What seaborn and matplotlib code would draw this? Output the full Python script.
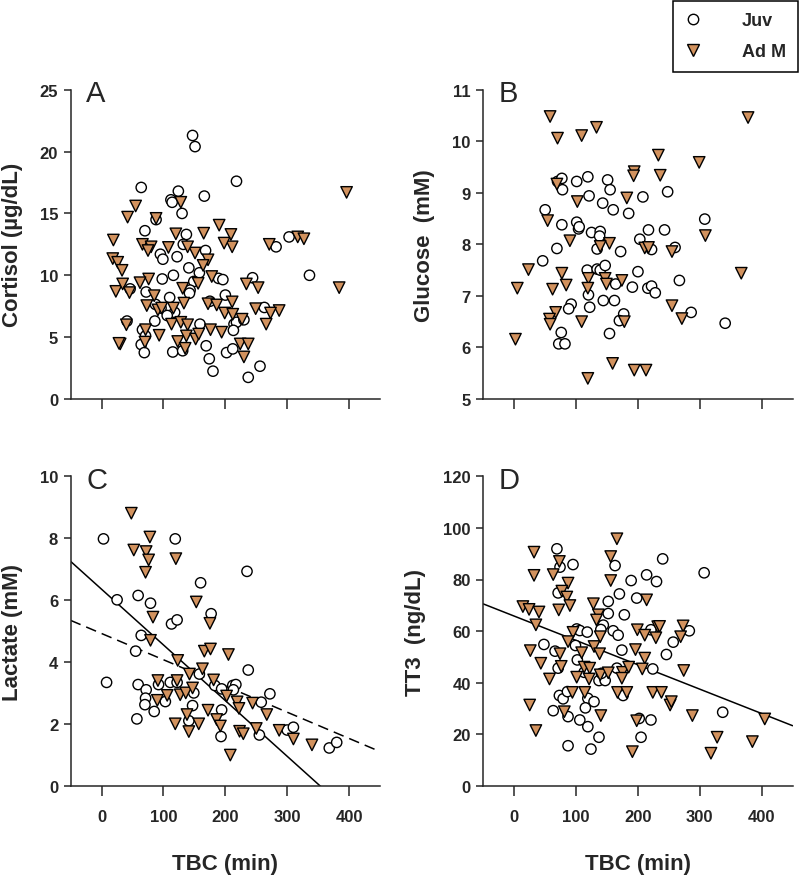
import numpy as np
import pandas as pd
import seaborn as sns
import matplotlib.pyplot as plt

sns.set_style("ticks")
plt.rcParams["font.family"] = ["Liberation Sans", "DejaVu Sans"]

TAN = "#D2925E"

# ---- panel A : cortisol ----
a_juv_tbc = [147, 151, 218, 64, 124, 166, 112, 114, 130, 88, 70, 137, 132, 303, 282, 168, 95, 122, 99, 141,
             158, 116, 98, 336, 244, 189, 196, 149, 46, 72, 143, 142, 200, 110, 175, 87, 96, 118, 106, 263,
             86, 41, 159, 214, 218, 230, 213, 66, 71, 64, 69, 115, 131, 169, 174, 180, 202, 212, 256, 237]
a_juv_val = [21.3, 20.4, 17.6, 17.1, 16.8, 16.4, 16.1, 15.9, 15.0, 14.5, 13.6, 13.3, 12.5, 13.1, 12.3, 12.0, 11.7, 11.5, 11.3, 10.6,
             10.2, 10.0, 9.7, 10.0, 9.8, 9.75, 9.65, 9.5, 8.9, 8.65, 8.8, 8.55, 8.4, 8.2, 7.9, 7.65, 7.35, 7.0, 6.75, 7.4,
             6.3, 6.3, 6.05, 6.05, 6.2, 6.4, 5.55, 5.6, 5.1, 4.4, 3.75, 3.8, 3.9, 4.3, 3.25, 2.25, 3.75, 4.05, 2.65, 1.75]
a_adm_tbc = [396, 384, 317, 327, 271, 287, 273, 266, 253, 234, 249, 190, 209, 211, 198, 165, 172, 164, 178, 156,
             151, 139, 128, 120, 108, 131, 133, 116, 113, 128, 139, 123, 135, 137, 152, 157, 176, 172, 186, 194,
             199, 212, 211, 227, 224, 237, 230, 93, 91, 97, 85, 71, 70, 73, 76, 62, 66, 80, 75, 88,
             55, 42, 19, 18, 26, 33, 23, 34, 45, 40, 30, 28]
a_adm_val = [16.7, 9.0, 13.1, 12.95, 12.5, 7.15, 6.95, 6.05, 9.0, 9.3, 7.3, 14.05, 13.3, 12.3, 12.6, 13.4, 11.25, 10.8, 9.9, 9.35,
             11.8, 12.3, 15.9, 13.35, 12.25, 8.95, 7.75, 7.35, 6.05, 6.2, 6.0, 4.65, 4.1, 5.1, 4.85, 5.25, 5.6, 7.7, 7.6, 5.4,
             6.95, 6.85, 7.85, 6.45, 4.45, 4.45, 3.4, 5.15, 7.2, 7.35, 8.35, 5.6, 4.6, 7.55, 9.7, 9.4, 12.5, 12.3, 12.0, 14.6,
             15.6, 14.7, 12.85, 11.35, 11.05, 10.4, 8.7, 9.3, 8.6, 6.0, 4.45, 4.5]

# ---- panel B : glucose ----
b_juv_tbc = [50, 70, 77, 78, 101, 119, 121, 151, 155, 143, 160, 185, 208, 248, 101, 104, 105, 77, 125, 139,
             138, 69, 46, 134, 172, 203, 217, 222, 243, 260, 308, 118, 134, 139, 147, 200, 164, 191, 216, 222,
             228, 267, 120, 122, 144, 162, 177, 170, 286, 341, 92, 88, 76, 72, 82, 154]
b_juv_val = [8.67, 9.22, 9.28, 9.06, 9.22, 9.31, 8.94, 9.25, 9.06, 8.8, 8.67, 8.6, 8.92, 9.02, 8.43, 8.3, 8.34, 8.38, 8.23, 8.25,
             8.16, 7.92, 7.68, 7.91, 7.86, 8.1, 8.28, 7.9, 8.28, 7.94, 8.49, 7.5, 7.52, 7.5, 7.59, 7.47, 7.23, 7.17, 7.15, 7.19,
             7.06, 7.3, 7.02, 6.78, 6.91, 6.91, 6.65, 6.52, 6.68, 6.47, 6.84, 6.75, 6.29, 6.07, 6.07, 6.27]
b_adm_tbc = [58, 70, 109, 133, 378, 233, 299, 194, 193, 236, 182, 102, 69, 54, 90, 309, 154, 139, 211, 217,
             255, 23, 77, 5, 62, 84, 120, 119, 147, 149, 174, 367, 255, 271, 67, 57, 58, 109, 178, 2,
             159, 119, 194, 213]
b_adm_val = [10.48, 10.06, 10.11, 10.27, 10.46, 9.73, 9.59, 9.41, 9.33, 9.34, 8.9, 8.83, 9.17, 8.46, 8.07, 8.17, 8.02, 7.96, 7.93, 7.94,
             7.86, 7.51, 7.44, 7.15, 7.13, 7.21, 7.34, 7.15, 7.34, 7.23, 7.3, 7.44, 6.81, 6.56, 6.68, 6.55, 6.45, 6.5, 6.5, 6.16,
             5.69, 5.4, 5.56, 5.56]

# ---- panel C : lactate ----
c_juv_tbc = [3, 119, 235, 160, 25, 59, 79, 113, 122, 177, 64, 55, 237, 8, 59, 72, 92, 111, 122, 158,
             183, 194, 212, 217, 213, 71, 70, 103, 85, 57, 149, 147, 141, 194, 193, 258, 272, 255, 300, 310,
             368, 380]
c_juv_val = [7.98, 7.98, 6.93, 6.56, 6.01, 6.15, 5.9, 5.23, 5.36, 5.56, 4.86, 4.35, 3.74, 3.34, 3.27, 3.1, 3.27, 3.34, 3.34, 3.61,
             3.24, 3.13, 3.24, 3.27, 3.1, 2.83, 2.62, 2.72, 2.4, 2.16, 3.0, 2.59, 2.1, 2.45, 1.59, 2.7, 2.97, 1.64, 1.8, 1.89,
             1.22, 1.4]
c_adm_tbc = [48, 78, 52, 72, 76, 71, 120, 153, 83, 79, 175, 166, 176, 205, 123, 142, 163, 181, 91, 122,
             90, 106, 127, 136, 147, 138, 119, 141, 157, 172, 186, 192, 202, 208, 219, 222, 223, 229, 244, 250,
             267, 287, 310, 340]
c_adm_val = [8.81, 8.04, 7.62, 7.57, 7.3, 6.9, 7.34, 5.94, 5.45, 4.7, 5.25, 4.35, 4.42, 4.24, 4.05, 3.61, 3.78, 3.42, 3.4, 3.4,
             2.76, 2.92, 2.94, 3.0, 3.16, 2.3, 2.0, 1.75, 2.0, 2.44, 2.14, 1.93, 2.9, 0.99, 2.71, 2.5, 1.76, 1.68, 2.67, 1.85,
             2.3, 1.79, 1.51, 1.32]

# ---- panel D : TT3 ----
d_juv_tbc = [69, 74, 95, 163, 240, 307, 189, 214, 230, 71, 170, 198, 152, 178, 152, 144, 101, 106, 118, 140,
             160, 168, 221, 283, 257, 246, 48, 99, 102, 66, 71, 174, 166, 224, 113, 137, 147, 141, 176, 73,
             79, 86, 119, 129, 63, 87, 106, 119, 115, 202, 221, 205, 137, 87, 124, 337]
d_juv_val = [91.9, 84.8, 85.8, 85.4, 88, 82.6, 79.6, 81.8, 79.2, 74.8, 74.4, 72.8, 71.5, 66.3, 66.8, 62.3, 60.8, 60.2, 59.6, 60.6,
             60.1, 58.4, 60.5, 60.1, 55.7, 50.9, 54.8, 54.4, 48.8, 52.2, 45.6, 52.6, 45.6, 45.3, 44, 40.8, 40.8, 43.6, 35, 35,
             33.7, 36.5, 33.9, 32.6, 29.1, 26.8, 25.5, 22.9, 30.2, 26.1, 25.5, 18.8, 18.8, 15.5, 14.2, 28.5]
d_adm_tbc = [166, 32, 156, 73, 32, 63, 156, 87, 77, 85, 90, 128, 214, 14, 24, 40, 72, 136, 35, 133,
             95, 139, 199, 232, 235, 273, 211, 229, 269, 26, 87, 74, 109, 129, 138, 196, 211, 43, 76, 57,
             101, 113, 122, 121, 139, 152, 175, 174, 185, 207, 274, 94, 114, 167, 182, 224, 238, 252, 254, 25,
             81, 140, 288, 198, 405, 35, 328, 385, 191, 318]
d_adm_val = [95.8, 90.6, 88.9, 87, 81.6, 81.9, 79.6, 78.6, 75.5, 73.2, 69.9, 70.6, 72.1, 69.5, 68.4, 67.4, 68.2, 66.3, 62.4, 64.3,
             59.5, 57.8, 60.5, 61.7, 61.8, 62, 58.4, 57.4, 57.8, 52.4, 55.9, 51.2, 51.6, 54, 51.2, 52.8, 49.5, 47.5, 46.3, 41.4,
             42.1, 46, 45.6, 41.4, 43, 43.8, 44, 41.7, 46, 45.3, 44.7, 36.2, 36.2, 36.2, 36.2, 36.2, 36.2, 31.3, 32.6, 31.3,
             28.7, 27.2, 27.2, 25.2, 25.9, 21.4, 18.8, 17.1, 13.2, 12.6]

# regression lines (intercept, slope)
c_fit_all = [6.35, -0.018]
c_fit_juv = [4.92, -0.00848]
d_fit = [65.8, -0.0945]

x_ticks = [0, 100, 200, 300, 400]

fig = plt.figure(figsize=(8, 8.78), dpi=100)


def draw_panel(rect, letter, ylabel, juv_x, juv_y, adm_x, adm_y, yticks, show_x, ylab_x):
    ax = fig.add_axes(rect)
    df = pd.DataFrame({
        "TBC": juv_x + adm_x,
        "val": juv_y + adm_y,
        "group": ["Juv"] * len(juv_x) + ["Ad M"] * len(adm_x),
    })
    sns.scatterplot(data=df, x="TBC", y="val", hue="group", style="group", size="group",
                    markers={"Juv": "o", "Ad M": "v"},
                    palette={"Juv": "white", "Ad M": TAN},
                    sizes={"Juv": 55, "Ad M": 68},
                    edgecolor="black", linewidth=1.0, legend=False, ax=ax, zorder=3)
    ax.set_xlim(-50, 450)
    ax.set_ylim(yticks[0], yticks[-1])
    ax.set_xticks(x_ticks)
    ax.set_yticks(yticks)
    sns.despine(ax=ax)
    for sp in ["left", "bottom"]:
        ax.spines[sp].set_linewidth(1.1)
    ax.tick_params(axis="x", length=7, width=1.1, labelsize=12, pad=10, labelbottom=show_x)
    ax.tick_params(axis="y", length=5, width=1.1, labelsize=12, pad=4)
    for lab in ax.get_xticklabels() + ax.get_yticklabels():
        lab.set_fontweight("bold")
    ax.set_ylabel(ylabel, fontsize=16, fontweight="bold", va="center")
    ax.yaxis.set_label_coords(ylab_x, 0.5)
    if show_x:
        ax.set_xlabel("TBC (min)", fontsize=16, fontweight="bold", va="center")
        ax.xaxis.set_label_coords(0.5, -0.253)
    else:
        ax.set_xlabel("")
    ax.text(0.05, 1.035, letter, transform=ax.transAxes, fontsize=21, va="top", ha="left")
    return ax


w, h = 309.3 / 800, 309.3 / 878
ax_a = draw_panel([70.7 / 800, 478 / 878, w, h], "A", "Cortisol (µg/dL)",
                  a_juv_tbc, a_juv_val, a_adm_tbc, a_adm_val, [0, 5, 10, 15, 20, 25], False, -0.187)
ax_b = draw_panel([483.3 / 800, 478 / 878, w, h], "B", "Glucose  (mM)",
                  b_juv_tbc, b_juv_val, b_adm_tbc, b_adm_val, [5, 6, 7, 8, 9, 10, 11], False, -0.189)
ax_c = draw_panel([70.7 / 800, 91.3 / 878, w, h], "C", "Lactate (mM)",
                  c_juv_tbc, c_juv_val, c_adm_tbc, c_adm_val, [0, 2, 4, 6, 8, 10], True, -0.188)
ax_d = draw_panel([483.3 / 800, 91.3 / 878, w, h], "D", "TT3  (ng/dL)",
                  d_juv_tbc, d_juv_val, d_adm_tbc, d_adm_val, [0, 20, 40, 60, 80, 100, 120], True, -0.219)

xs = np.array([-50, 450])
ax_c.plot(xs, c_fit_all[0] + c_fit_all[1] * xs, color="black", lw=1.1, zorder=2)
ax_c.plot(xs, c_fit_juv[0] + c_fit_juv[1] * xs, color="black", lw=1.1, ls=(0, (7, 4)), zorder=2)
ax_d.plot(xs, d_fit[0] + d_fit[1] * xs, color="black", lw=1.1, zorder=2)

# legend in the top right corner
handles = [
    plt.Line2D([], [], ls="", marker="o", ms=7.5, mfc="white", mec="black", mew=1.0),
    plt.Line2D([], [], ls="", marker="v", ms=8.5, mfc=TAN, mec="black", mew=1.0),
]
leg = fig.legend(handles, ["Juv", "Ad M"], loc="upper right", bbox_to_anchor=(798 / 800, 1 - 1.7 / 878),
                 frameon=True, fancybox=False, edgecolor="black", framealpha=1,
                 prop={"size": 13, "weight": "bold"}, handletextpad=2.2, labelspacing=0.75,
                 borderpad=0.65, handlelength=1.0, borderaxespad=0)
leg.get_frame().set_linewidth(1.1)

fig.savefig("out.png", dpi=100)
